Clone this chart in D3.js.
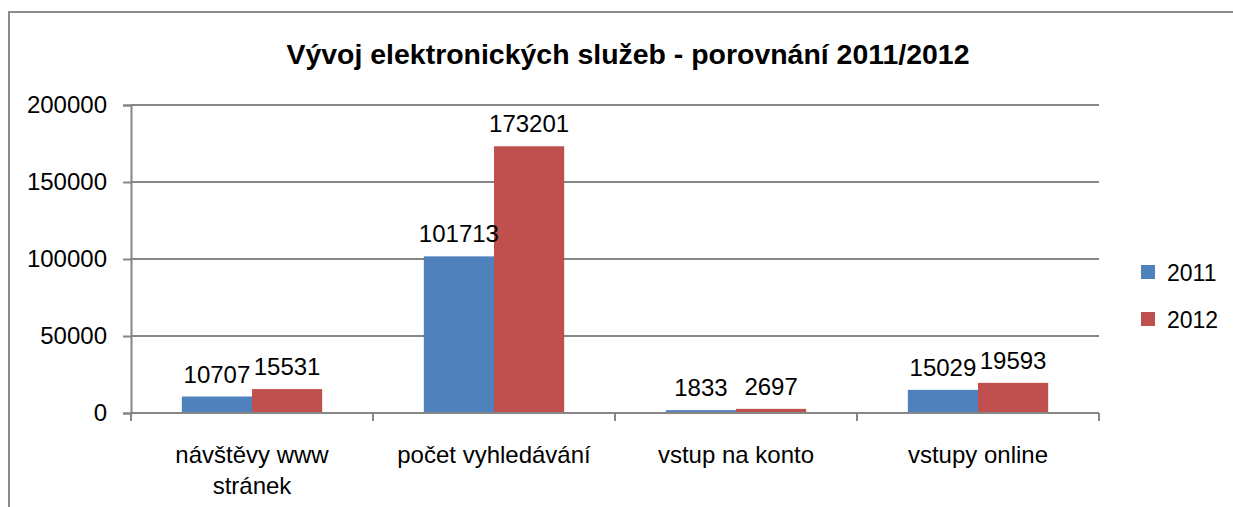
<!DOCTYPE html>
<html>
<head>
<meta charset="utf-8">
<script src="https://cdn.jsdelivr.net/npm/d3@7"></script>
<style>
  body { margin: 0; background: #fff; }
  svg { display: block; font-family: "Liberation Sans", Arial, sans-serif; }
</style>
</head>
<body>
<div class="chart"></div>
<script>
// data
const categories = ["návštěvy www stránek", "počet vyhledávání", "vstup na konto", "vstupy online"];
const series = ["2011", "2012"];
const values2011 = [10707, 101713, 1833, 15029];
const values2012 = [15531, 173201, 2697, 19593];
const yTicks = [0, 50000, 100000, 150000, 200000];
const colors = ["#4F81BD", "#C0504D"];

const width = 1233, height = 507;
const plot = { left: 131, right: 1099, top: 105, bottom: 413 };

const svg = d3.select(".chart").append("svg")
  .attr("width", width)
  .attr("height", height);

// outer chart border (cut off at right/bottom like the screenshot)
svg.append("rect")
  .attr("x", 9).attr("y", 12)
  .attr("width", 1240).attr("height", 520)
  .attr("fill", "none")
  .attr("stroke", "#8c8c8c")
  .attr("stroke-width", 2);

svg.append("text")
  .attr("x", 628).attr("y", 64)
  .attr("text-anchor", "middle")
  .attr("font-size", 28)
  .attr("font-weight", "bold")
  .attr("textLength", 683)
  .attr("lengthAdjust", "spacingAndGlyphs")
  .text("Vývoj elektronických služeb - porovnání 2011/2012");

const y = d3.scaleLinear().domain([0, 200000]).range([plot.bottom, plot.top]);
const x0 = d3.scaleBand().domain(categories).range([plot.left, plot.right]);
const bw = x0.bandwidth();
const x1 = d3.scaleBand().domain(series).range([bw * 0.21, bw * 0.79]);

// gridlines
svg.append("g")
  .selectAll("line")
  .data(yTicks.slice(1))
  .join("line")
  .attr("x1", plot.left).attr("x2", plot.right)
  .attr("y1", d => y(d)).attr("y2", d => y(d))
  .attr("stroke", "#868686")
  .attr("stroke-width", 2);

// y axis
const yAxis = svg.append("g")
  .attr("transform", `translate(${plot.left},0)`)
  .call(d3.axisLeft(y).tickValues(yTicks).tickSize(8).tickPadding(16).tickFormat(d3.format("d")));
yAxis.select(".domain").attr("stroke", "#868686").attr("stroke-width", 2);
yAxis.selectAll(".tick line").attr("stroke", "#868686").attr("stroke-width", 2);
yAxis.selectAll(".tick text")
  .attr("font-size", 24)
  .attr("fill", "#000")
  .attr("font-family", "Liberation Sans, Arial, sans-serif");

// bars
const rows = categories.map((c, i) => ({ cat: c, vals: [values2011[i], values2012[i]] }));
const groups = svg.append("g")
  .selectAll("g")
  .data(rows)
  .join("g")
  .attr("transform", d => `translate(${x0(d.cat)},0)`);

groups.selectAll("rect")
  .data(d => d.vals.map((v, j) => ({ s: series[j], v, j })))
  .join("rect")
  .attr("x", d => x1(d.s))
  .attr("y", d => y(d.v))
  .attr("width", x1.bandwidth())
  .attr("height", d => y(0) - y(d.v))
  .attr("fill", d => colors[d.j]);

groups.selectAll("text.val")
  .data(d => d.vals.map((v, j) => ({ s: series[j], v, j })))
  .join("text")
  .attr("class", "val")
  .attr("x", d => x1(d.s) + x1.bandwidth() / 2)
  .attr("y", d => y(d.v) - 14)
  .attr("text-anchor", "middle")
  .attr("font-size", 24)
  .text(d => d.v);

// x axis
const xAxis = svg.append("g")
  .attr("transform", `translate(0,${plot.bottom})`);
xAxis.append("line")
  .attr("x1", plot.left).attr("x2", plot.right)
  .attr("stroke", "#868686").attr("stroke-width", 2);
const bounds = categories.map(c => x0(c)).concat([plot.right]);
xAxis.selectAll("line.tick")
  .data(bounds)
  .join("line")
  .attr("class", "tick")
  .attr("x1", d => d).attr("x2", d => d)
  .attr("y1", 0).attr("y2", 8)
  .attr("stroke", "#868686").attr("stroke-width", 2);

const catLines = [["návštěvy www", "stránek"], ["počet vyhledávání"], ["vstup na konto"], ["vstupy online"]];
xAxis.selectAll("text.cat")
  .data(categories)
  .join("text")
  .attr("class", "cat")
  .attr("x", d => x0(d) + bw / 2)
  .attr("y", 50)
  .attr("text-anchor", "middle")
  .attr("font-size", 24)
  .each(function(d, i) {
    d3.select(this).selectAll("tspan")
      .data(catLines[i])
      .join("tspan")
      .attr("x", x0(d) + bw / 2)
      .attr("dy", (t, k) => k === 0 ? 0 : 31)
      .text(t => t);
  });

// legend
const legend = svg.append("g")
  .selectAll("g")
  .data(series)
  .join("g")
  .attr("transform", (d, i) => `translate(1141,${265 + i * 47})`);
legend.append("rect")
  .attr("width", 14).attr("height", 14)
  .attr("fill", (d, i) => colors[i]);
legend.append("text")
  .attr("x", 26).attr("y", 16)
  .attr("font-size", 23)
  .text(d => d);
</script>
</body>
</html>
